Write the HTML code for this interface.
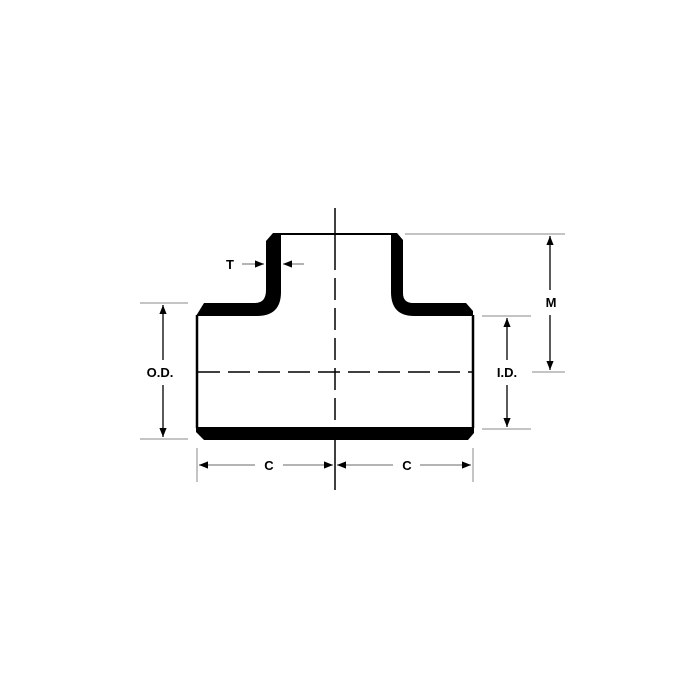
<!DOCTYPE html>
<html><head><style>html,body{margin:0;padding:0;background:#fff}svg{display:block}</style></head>
<body>
<svg width="700" height="700" viewBox="0 0 700 700" xmlns="http://www.w3.org/2000/svg" font-family="Liberation Sans, sans-serif" font-weight="bold">
<defs>
<marker id="a" viewBox="0 0 10 10" refX="10" refY="5" markerWidth="7" markerHeight="7" orient="auto-start-reverse"><path d="M0,1 L10,5 L0,9 Z" fill="#000"/></marker>
</defs>
<!-- body -->
<path d="M196,316 L204,303 L255,303 Q266,303 266,290 L266,241 L273,233 L281,233 L281,292 Q281,316 257,316 Z" fill="#000"/>
<path d="M391,233 L397,233 L403,240 L403,293 Q403,303 413,303 L466,303 L473,311 L473,316 L414,316 Q391,316 391,292 Z" fill="#000"/>
<path d="M196,427 L474,427 L474,433 L468,440 L204,440 L196,432 Z" fill="#000"/>
<line x1="280" y1="234" x2="392" y2="234" stroke="#000" stroke-width="2"/>
<line x1="197" y1="315" x2="197" y2="428" stroke="#000" stroke-width="2.5"/>
<line x1="473" y1="315" x2="473" y2="428" stroke="#000" stroke-width="2.5"/>
<!-- center lines -->
<line x1="335" y1="208" x2="335" y2="270" stroke="#000" stroke-width="1.5"/>
<line x1="335" y1="278" x2="335" y2="427" stroke="#000" stroke-width="1.5" stroke-dasharray="22,8"/>
<line x1="335" y1="440" x2="335" y2="490" stroke="#000" stroke-width="1.5"/>
<line x1="198" y1="372" x2="473" y2="372" stroke="#000" stroke-width="1.5" stroke-dasharray="22,8"/>
<!-- ext lines -->
<g stroke="#888" stroke-width="1">
<line x1="140" y1="303" x2="188" y2="303"/>
<line x1="140" y1="439" x2="188" y2="439"/>
<line x1="482" y1="316" x2="531" y2="316"/>
<line x1="482" y1="429" x2="531" y2="429"/>
<line x1="405" y1="234" x2="565" y2="234"/>
<line x1="532" y1="372" x2="565" y2="372"/>
<line x1="197" y1="448" x2="197" y2="482"/>
<line x1="473" y1="448" x2="473" y2="482"/>
</g>
<!-- dims -->
<g stroke="#000" stroke-width="1.3" fill="none">
<line x1="163" y1="305" x2="163" y2="360" marker-start="url(#a)"/>
<line x1="163" y1="385" x2="163" y2="437" marker-end="url(#a)"/>
<line x1="507" y1="318" x2="507" y2="360" marker-start="url(#a)"/>
<line x1="507" y1="385" x2="507" y2="427" marker-end="url(#a)"/>
<line x1="550" y1="236" x2="550" y2="290" marker-start="url(#a)"/>
<line x1="550" y1="315" x2="550" y2="370" marker-end="url(#a)"/>
</g>
<g stroke="#888" stroke-width="1.3" fill="none">
<line x1="199" y1="465" x2="255" y2="465" marker-start="url(#a)"/>
<line x1="283" y1="465" x2="333" y2="465" marker-end="url(#a)"/>
<line x1="337" y1="465" x2="393" y2="465" marker-start="url(#a)"/>
<line x1="420" y1="465" x2="471" y2="465" marker-end="url(#a)"/>
<line x1="242" y1="264" x2="264" y2="264" marker-end="url(#a)"/>
<line x1="304" y1="264" x2="283" y2="264" marker-end="url(#a)"/>
</g>
<g font-size="13" fill="#000" text-anchor="middle">
<text x="230" y="269">T</text>
<text x="160" y="377">O.D.</text>
<text x="507" y="377">I.D.</text>
<text x="551" y="307">M</text>
<text x="269" y="470">C</text>
<text x="407" y="470">C</text>
</g>
</svg>
</body></html>
